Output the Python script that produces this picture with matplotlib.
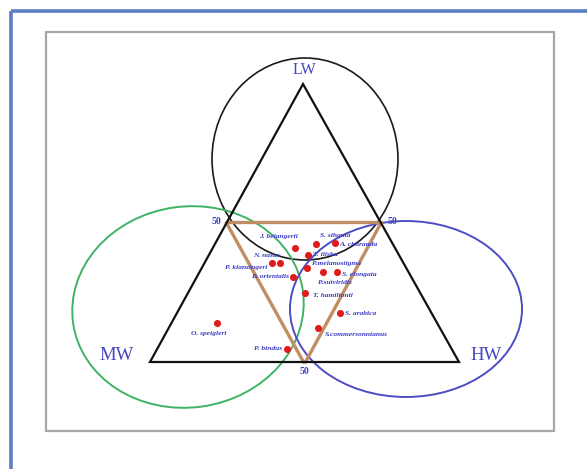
import matplotlib
matplotlib.use("Agg")
import matplotlib.pyplot as plt
from matplotlib.patches import Ellipse, Rectangle, Polygon
import numpy as np

# ---- data: ternary composition (% LW, % MW, % HW) of each species ----
species = ["J. belangerii", "S. sihama", "A. charanda", "T. ilisha", "N. nasus",
           "P. klanzingeri", "P.melanostigma", "P.sutviridis", "S. elongata",
           "B. orientalis", "T. hamiltonii", "S. arabica", "S.commersonnianus",
           "P. bindus", "O. speigleri"]
lw_pct = [41.0, 42.4, 42.8, 38.5, 35.6, 35.6, 33.8, 32.4, 32.4, 30.6, 24.8, 17.6, 12.2, 4.7, 14.0]
mw_pct = [32.4, 24.9, 18.5, 29.4, 40.0, 42.6, 32.1, 27.6, 23.1, 38.3, 37.3, 29.6, 39.5, 53.3, 71.3]
hw_pct = [26.6, 32.7, 38.7, 32.1, 24.4, 21.8, 34.1, 40.0, 44.5, 31.1, 37.9, 52.8, 48.3, 42.0, 14.7]

corner_labels = ["LW", "MW", "HW"]
mid_label = "50"

# ---- layout ----
W, H = 587, 469
fig = plt.figure(figsize=(W / 100, H / 100), dpi=100)
ax = fig.add_axes([0, 0, 1, 1])
ax.set_xlim(0, W)
ax.set_ylim(H, 0)
ax.axis("off")

V_LW = np.array([303.0, 84.0])
V_MW = np.array([150.0, 362.0])
V_HW = np.array([459.0, 362.0])

def tern(l, m, h):
    l, m, h = np.asarray(l) / 100, np.asarray(m) / 100, np.asarray(h) / 100
    s = l + m + h
    l, m, h = l / s, m / s, h / s
    x = l * V_LW[0] + m * V_MW[0] + h * V_HW[0]
    y = l * V_LW[1] + m * V_MW[1] + h * V_HW[1]
    return x, y

blue_txt = "#3c3cc8"
serif = ["Liberation Serif", "DejaVu Serif"]

# outer frame (blue) and inner frame (gray)
ax.plot([11, 11], [H + 5, 11], color="#5b7ec6", lw=2.6, solid_capstyle="butt", clip_on=False)
ax.plot([11, W + 5], [11, 11], color="#5b7ec6", lw=2.6, solid_capstyle="butt", clip_on=False)
ax.add_patch(Rectangle((46, 32), 508, 399, fill=False, ec="#a6a6a6", lw=1.6))

# circles of the three habitat groups
ax.add_patch(Ellipse((305, 159), 186, 202, angle=0, fill=False, ec="#1a1a1a", lw=1.2, zorder=2))
ax.add_patch(Ellipse((188, 307), 232, 201, angle=-8, fill=False, ec="#3fb365", lw=1.4, zorder=2))
ax.add_patch(Ellipse((406, 309), 232, 176, angle=0, fill=False, ec="#4c4cc4", lw=1.4, zorder=2))

# main triangle
ax.add_patch(Polygon([V_LW, V_MW, V_HW], closed=True, fill=False, ec="#111111", lw=1.6, zorder=3))

# inner 50% triangle
M_left = (V_LW + V_MW) / 2
M_right = (V_LW + V_HW) / 2
M_bot = (V_MW + V_HW) / 2
brown = "#c08e62"
ax.plot([M_left[0], M_right[0]], [M_left[1] - 1, M_right[1] - 1], color=brown, lw=2.4, zorder=2.5)
ax.plot([M_left[0], M_bot[0] - 1], [M_left[1], M_bot[1]], color=brown, lw=2.4, zorder=2.5)
ax.plot([M_right[0], M_bot[0] + 1], [M_right[1], M_bot[1]], color=brown, lw=2.4, zorder=2.5)

# corner labels
ax.text(304, 70, corner_labels[0], ha="center", va="center", fontsize=11.5, color="#4646c0", family=serif)
ax.text(117, 355, corner_labels[1], ha="center", va="center", fontsize=13.5, color="#4646c0", family=serif)
ax.text(486, 355, corner_labels[2], ha="center", va="center", fontsize=13.5, color="#4646c0", family=serif)

# 50 labels
ax.text(216, 222, mid_label, ha="center", va="center", fontsize=7, color=blue_txt, family=serif, weight="bold")
ax.text(392, 222, mid_label, ha="center", va="center", fontsize=7, color=blue_txt, family=serif, weight="bold")
ax.text(304, 371, mid_label, ha="center", va="center", fontsize=7, color=blue_txt, family=serif, weight="bold")

# species points
px, py = tern(lw_pct, mw_pct, hw_pct)
ax.scatter(px, py, s=26, color="#e01b1b", zorder=6, linewidths=0)

# label offsets (pixels) and alignment
offsets = [(-16, -12, "center"), (4, -9, "left"), (4, 1, "left"), (5, 0, "left"),
           (0, -8, "right"), (-4, 4, "right"), (5, -5, "left"), (-5, 11, "left"),
           (5, 3, "left"), (-4, 0, "right"), (8, 2, "left"), (5, 0, "left"),
           (7, 6, "left"), (-5, 0, "right"), (-8, 10, "center")]
for name, x, y, (dx, dy, ha) in zip(species, px, py, offsets):
    wt = "heavy" if name == "S. elongata" else "bold"
    ax.text(x + dx, y + dy, name, ha=ha, va="center", fontsize=5.4, color=blue_txt,
            family=serif, style="italic", weight=wt, zorder=5)

fig.savefig("out.png", dpi=100)
